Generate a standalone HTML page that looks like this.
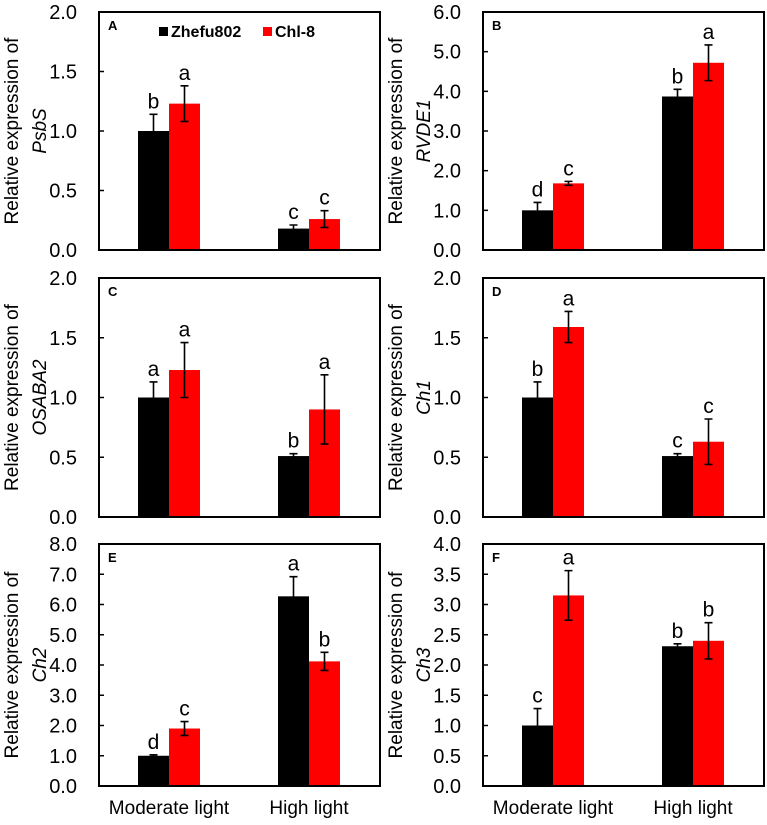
<!DOCTYPE html>
<html><head><meta charset="utf-8"><style>
body{margin:0;background:#fff;}
svg{display:block;font-family:"Liberation Sans",Arial,sans-serif;}
</style></head><body>
<svg id="chart" width="767" height="825" viewBox="0 0 767 825" xmlns="http://www.w3.org/2000/svg"></svg>
<script>
const panelIds = ["A","B","C","D","E","F"];
const genes = ["PsbS","RVDE1","OSABA2","Ch1","Ch2","Ch3"];
const yMaxes = [2,6,2,2,8,4];
const yStepArr = [0.5,1,0.5,0.5,1,0.5];
const categories = ["Moderate light","High light"];
const seriesNames = ["Zhefu802","Chl-8"];
const zhefuVals = [[1.0,0.18],[1.0,3.87],[1.0,0.51],[1.0,0.51],[1.0,6.27],[1.0,2.31]];
const zhefuErr = [[0.14,0.03],[0.2,0.18],[0.13,0.02],[0.13,0.02],[0.03,0.65],[0.28,0.04]];
const chlVals = [[1.23,0.26],[1.68,4.72],[1.23,0.9],[1.59,0.63],[1.9,4.12],[3.15,2.4]];
const chlErr = [[0.15,0.07],[0.05,0.45],[0.23,0.29],[0.13,0.19],[0.23,0.3],[0.41,0.3]];
const letters = [["b","a","c","c"],["d","c","b","a"],["a","a","b","a"],["b","a","c","c"],["d","c","a","b"],["c","a","b","b"]];

const svg = document.getElementById('chart');
const NS = "http://www.w3.org/2000/svg";
function mk(tag, attrs, parent){const e=document.createElementNS(NS,tag);for(const k in attrs)e.setAttribute(k,attrs[k]);(parent||svg).appendChild(e);return e;}
const colX=[99,483], W=281;
const rowY=[[12,250],[278,517],[544,786]];
const colors=["#000000","#ff0000"];
for(let p=0;p<6;p++){
  const col=p%2,row=Math.floor(p/2);
  const L=colX[col],T=rowY[row][0],B=rowY[row][1];
  const g=mk('g',{});
  
  
  const ymax=yMaxes[p], step=yStepArr[p];
  const y=v=>B-(v/ymax)*(B-T);
  const x=(gi,si)=>L+39+gi*140+si*31;
  for(let gi=0;gi<2;gi++){
    for(let si=0;si<2;si++){
      const v=si?chlVals[p][gi]:zhefuVals[p][gi], e=si?chlErr[p][gi]:zhefuErr[p][gi];
      const r=mk('rect',{x:x(gi,si),y:y(v),width:31,height:B-y(v),fill:colors[si]},g);
      
      
      const cx=x(gi,si)+15.5;
      const eb=mk('path',{d:`M${cx},${y(v-e)}V${y(v+e)}M${cx-4},${y(v+e)}H${cx+4}M${cx-4},${y(v-e)}H${cx+4}`,stroke:"#000","stroke-width":1.6,fill:"none"},g);
      
      
      const t=mk('text',{x:cx,y:y(v+e)-6,"font-size":21,"text-anchor":"middle"},g);
      t.textContent=letters[p][gi*2+si];
      
      
    }
  }
  const box=mk('rect',{x:L,y:T,width:W,height:B-T,fill:"none",stroke:"#000","stroke-width":2},g);
  
  
  for(let v=0;v<=ymax+1e-9;v+=step){
    mk('line',{x1:L,x2:L+5,y1:y(v),y2:y(v),stroke:"#000","stroke-width":1.5},g);
    const t=mk('text',{x:L-22,y:y(v)+7,"font-size":20,"text-anchor":"end"},g);
    t.textContent=v.toFixed(1);
    
    
  }
  const pl=mk('text',{x:L+9,y:T+18,"font-size":13,"font-weight":"bold"},g);
  pl.textContent=panelIds[p];
  
  
  const cy=(T+B)/2;
  const yt=mk('text',{transform:`translate(${L-81},${cy}) rotate(-90)`,"font-size":19,"text-anchor":"middle"},g);
  yt.textContent="Relative expression of";
  
  
  const yg=mk('text',{transform:`translate(${L-53},${cy}) rotate(-90)`,"font-size":19,"text-anchor":"middle","font-style":"italic"},g);
  yg.textContent=genes[p];
  
  
  if(row===2){
    for(let gi=0;gi<2;gi++){
      const t=mk('text',{x:x(gi,1),y:814,"font-size":19,"text-anchor":"middle"},g);
      t.textContent=categories[gi];
      
      
    }
  }
}
const lg=mk('g',{});


const lx=[159,263];
for(let i=0;i<2;i++){
  mk('rect',{x:lx[i],y:27,width:9,height:9,fill:colors[i]},lg);
  const t=mk('text',{x:lx[i]+12,y:37,"font-size":16,"font-weight":"bold"},lg);
  t.textContent=seriesNames[i];
  
  
}
</script>
</body></html>
